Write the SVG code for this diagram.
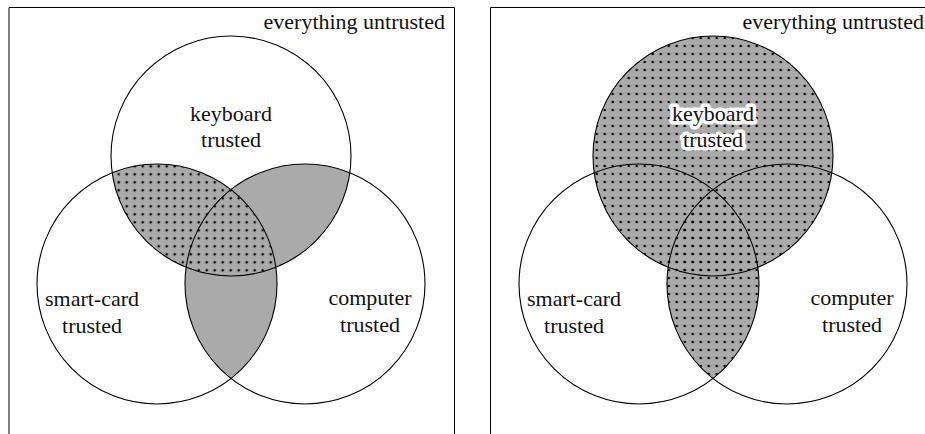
<svg xmlns="http://www.w3.org/2000/svg" width="925" height="434" viewBox="0 0 925 434">
  <style>
    .frame { fill: none; stroke: #000; stroke-width: 1; }
    .ring { fill: none; stroke: #000; stroke-width: 1.1; }
    .gray { fill: #aaaaaa; }
    .halo { paint-order: stroke; stroke: #fff; stroke-width: 7; stroke-linejoin: round; }
  </style>
  <defs>
    <pattern id="dotsA" patternUnits="userSpaceOnUse" x="2.7" y="2.3" width="8" height="8">
      <circle cx="4" cy="4" r="1.35" fill="#000"/>
    </pattern>
    <pattern id="dotsB" patternUnits="userSpaceOnUse" x="0.7" y="2" width="8" height="8">
      <circle cx="4" cy="4" r="1.35" fill="#000"/>
    </pattern>
    <clipPath id="clipLeftA"><circle cx="157" cy="284" r="120"/></clipPath>
    <clipPath id="clipRightA"><circle cx="305" cy="284" r="120"/></clipPath>
    <clipPath id="clipRightB"><circle cx="787" cy="284" r="120"/></clipPath>
  </defs>

  <!-- Panel A: at least two trusted -->
  <g id="panel-a" font-family="Liberation Serif" font-size="22" fill="#111">
    <path class="frame" d="M9,434 V7.5 H454.5 V434"/>
    <text x="445" y="29" text-anchor="end" font-family="Liberation Serif" font-size="22">everything untrusted</text>
    <g id="a-shading">
      <circle class="gray" cx="231" cy="156" r="120" clip-path="url(#clipLeftA)"/>
      <circle class="gray" cx="231" cy="156" r="120" clip-path="url(#clipRightA)"/>
      <circle class="gray" cx="157" cy="284" r="120" clip-path="url(#clipRightA)"/>
      <circle fill="url(#dotsA)" cx="231" cy="156" r="120" clip-path="url(#clipLeftA)"/>
    </g>
    <g id="a-keyboard">
      <circle class="ring" cx="231" cy="156" r="120"/>
      <text x="231" y="121" text-anchor="middle" font-family="Liberation Serif" font-size="22">keyboard</text>
      <text x="231" y="147" text-anchor="middle" font-family="Liberation Serif" font-size="22">trusted</text>
    </g>
    <g id="a-smartcard">
      <circle class="ring" cx="157" cy="284" r="120"/>
      <text x="92" y="306" text-anchor="middle" font-family="Liberation Serif" font-size="22">smart-card</text>
      <text x="92" y="333" text-anchor="middle" font-family="Liberation Serif" font-size="22">trusted</text>
    </g>
    <g id="a-computer">
      <circle class="ring" cx="305" cy="284" r="120"/>
      <text x="370" y="305" text-anchor="middle" font-family="Liberation Serif" font-size="22">computer</text>
      <text x="370" y="332" text-anchor="middle" font-family="Liberation Serif" font-size="22">trusted</text>
    </g>
  </g>

  <!-- Panel B: keyboard trusted, or both others trusted -->
  <g id="panel-b" font-family="Liberation Serif" font-size="22" fill="#111">
    <path class="frame" d="M490.5,434 V7.5 H925"/>
    <text x="924" y="29" text-anchor="end" font-family="Liberation Serif" font-size="22">everything untrusted</text>
    <g id="b-shading">
      <circle class="gray" cx="713" cy="156" r="120"/>
      <circle class="gray" cx="639" cy="284" r="120" clip-path="url(#clipRightB)"/>
      <circle fill="url(#dotsB)" cx="713" cy="156" r="120"/>
      <circle fill="url(#dotsB)" cx="639" cy="284" r="120" clip-path="url(#clipRightB)"/>
    </g>
    <g id="b-smartcard">
      <circle class="ring" cx="639" cy="284" r="120"/>
      <text x="574" y="306" text-anchor="middle" font-family="Liberation Serif" font-size="22">smart-card</text>
      <text x="574" y="333" text-anchor="middle" font-family="Liberation Serif" font-size="22">trusted</text>
    </g>
    <g id="b-computer">
      <circle class="ring" cx="787" cy="284" r="120"/>
      <text x="852" y="305" text-anchor="middle" font-family="Liberation Serif" font-size="22">computer</text>
      <text x="852" y="332" text-anchor="middle" font-family="Liberation Serif" font-size="22">trusted</text>
    </g>
    <g id="b-keyboard">
      <circle class="ring" cx="713" cy="156" r="120"/>
      <text class="halo" x="713" y="121" text-anchor="middle" font-family="Liberation Serif" font-size="22">keyboard</text>
      <text class="halo" x="713" y="147" text-anchor="middle" font-family="Liberation Serif" font-size="22">trusted</text>
    </g>
  </g>
</svg>
